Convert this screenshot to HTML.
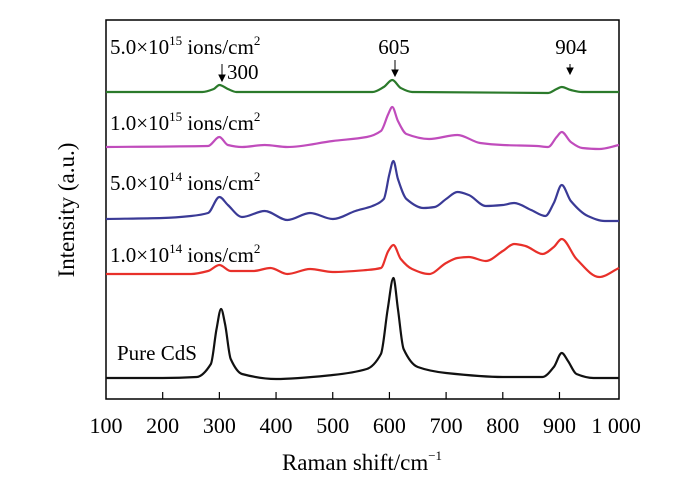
<!DOCTYPE html>
<html><head><meta charset="utf-8"><style>
body{margin:0;background:#fff}
svg{display:block}
text{font-family:"Liberation Serif",serif;fill:#000}
</style></head><body>
<svg id="chart" width="700" height="493" viewBox="0 0 700 493">
<rect x="106" y="20" width="513" height="379" fill="none" stroke="#000" stroke-width="1.5"/>
<g id="ticks"></g>
<g id="series"></g>
<text x="110" y="54" font-size="21">5.0×10<tspan font-size="13" dy="-9">15</tspan><tspan dy="9"> ions/cm</tspan><tspan font-size="13" dy="-9">2</tspan></text>
<text x="110" y="130" font-size="21">1.0×10<tspan font-size="13" dy="-9">15</tspan><tspan dy="9"> ions/cm</tspan><tspan font-size="13" dy="-9">2</tspan></text>
<text x="110" y="190" font-size="21">5.0×10<tspan font-size="13" dy="-9">14</tspan><tspan dy="9"> ions/cm</tspan><tspan font-size="13" dy="-9">2</tspan></text>
<text x="110" y="262" font-size="21">1.0×10<tspan font-size="13" dy="-9">14</tspan><tspan dy="9"> ions/cm</tspan><tspan font-size="13" dy="-9">2</tspan></text>
<text x="117" y="360" font-size="21">Pure CdS</text>
<text x="227" y="79" font-size="21">300</text>
<text x="394" y="54" font-size="21" text-anchor="middle">605</text>
<text x="571" y="54" font-size="21" text-anchor="middle">904</text>
<g stroke="#000" stroke-width="1" fill="#000">
<line x1="222" y1="64" x2="222" y2="78"/><polygon points="219,75 225,75 222,81"/>
<line x1="395" y1="60" x2="395" y2="73"/><polygon points="392,70 398,70 395,76"/>
<line x1="570" y1="64" x2="570" y2="71"/><polygon points="567,68 573,68 570,74"/>
</g>
<text x="362" y="470" font-size="23" text-anchor="middle">Raman shift/cm<tspan font-size="13" dy="-10">−1</tspan></text>
<text transform="translate(74,210) rotate(-90)" font-size="23" text-anchor="middle">Intensity (a.u.)</text>
</svg>
<script>
const tickValues=[100,200,300,400,500,600,700,800,900,1000];
const tickLabels=["100","200","300","400","500","600","700","800","900","1 000"];
const blackX=[100,200,260,285,295,303,310,320,340,400,500,560,585,597,607,615,625,650,700,800,870,890,904,915,930,960,1005];
const blackY=[21,21,22,35,70,90,75,40,25,20,24,30,45,90,121,90,50,32,26,22,22,32,46,38,25,21,21];
const redX=[100,250,280,300,320,360,390,420,460,500,560,585,598,607,620,640,670,700,720,740,770,800,820,840,870,890,904,930,970,1005];
const redY=[125,125,128,134,128,128,131,125,130,127,129,131,148,154,140,130,125,136,141,142,138,148,155,153,145,152,160,140,122,131];
const blueX=[100,200,250,280,300,315,340,380,420,460,500,540,570,590,600,607,615,630,660,680,700,720,740,770,800,820,850,875,890,904,920,950,980,1005];
const blueY=[180,181,183,186,202,194,182,188,179,186,180,188,193,200,225,238,220,200,191,192,200,207,204,193,194,196,189,183,196,214,198,183,178,178];
const magX=[100,280,300,315,340,380,420,500,560,585,598,605,615,630,670,720,760,800,860,880,895,904,920,940,970,1005];
const magY=[252,253,262,254,252,254,252,258,262,268,285,292,278,265,260,264,256,254,253,252,262,267,257,251,250,254];
const greenX=[100,270,290,300,315,330,570,590,605,620,640,880,895,904,920,940,1005];
const greenY=[307,307,310,314,310,307,307,312,319,311,307,306,310,312,309,307,307];
const X0=106,X1=619,XMIN=100,XMAX=1005,YB=399;
const xs=v=>X0+(v-XMIN)/(XMAX-XMIN)*(X1-X0);
const ys=v=>YB-v;
const NS="http://www.w3.org/2000/svg";
const tg=document.getElementById('ticks');
tickValues.forEach((t,i)=>{
  const x=xs(t);
  if(i>0&&i<tickValues.length-1){
    const l=document.createElementNS(NS,'line');
    l.setAttribute('x1',x);l.setAttribute('x2',x);l.setAttribute('y1',YB);l.setAttribute('y2',YB-7);
    l.setAttribute('stroke','#000');l.setAttribute('stroke-width','1.2');
    
    
    tg.appendChild(l);
  }
  const tx=document.createElementNS(NS,'text');
  tx.setAttribute('x',x);tx.setAttribute('y',433);tx.setAttribute('font-size','22');tx.setAttribute('text-anchor','middle');
  tx.textContent=tickLabels[i];
  
  
  tg.appendChild(tx);
});
function pathFrom(xa,ya){
  const px=xa.map(xs),py=ya.map(ys),n=px.length;
  const d=[],m=new Array(n);
  for(let i=0;i<n-1;i++)d.push((py[i+1]-py[i])/(px[i+1]-px[i]));
  m[0]=d[0];m[n-1]=d[n-2];
  for(let i=1;i<n-1;i++){m[i]=(d[i-1]*d[i]<=0)?0:2/(1/d[i-1]+1/d[i]);}
  let s='M'+px[0]+','+py[0];
  for(let i=0;i<n-1;i++){
    const h=(px[i+1]-px[i])/3;
    s+=' C'+(px[i]+h)+','+(py[i]+m[i]*h)+' '+(px[i+1]-h)+','+(py[i+1]-m[i+1]*h)+' '+px[i+1]+','+py[i+1];
  }
  return s;
}
const sg=document.getElementById('series');
[[blackX,blackY,'#111','series-pure-cds'],[redX,redY,'#e8302a','series-1e14'],[blueX,blueY,'#3a3a96','series-5e14'],[magX,magY,'#c04cbc','series-1e15'],[greenX,greenY,'#2b7a2b','series-5e15']].forEach(s=>{
  const pa=document.createElementNS(NS,'path');
  pa.setAttribute('d',pathFrom(s[0],s[1]));
  pa.setAttribute('fill','none');pa.setAttribute('stroke',s[2]);pa.setAttribute('stroke-width','2.2');
  
  
  sg.appendChild(pa);
});
</script>
</body></html>
